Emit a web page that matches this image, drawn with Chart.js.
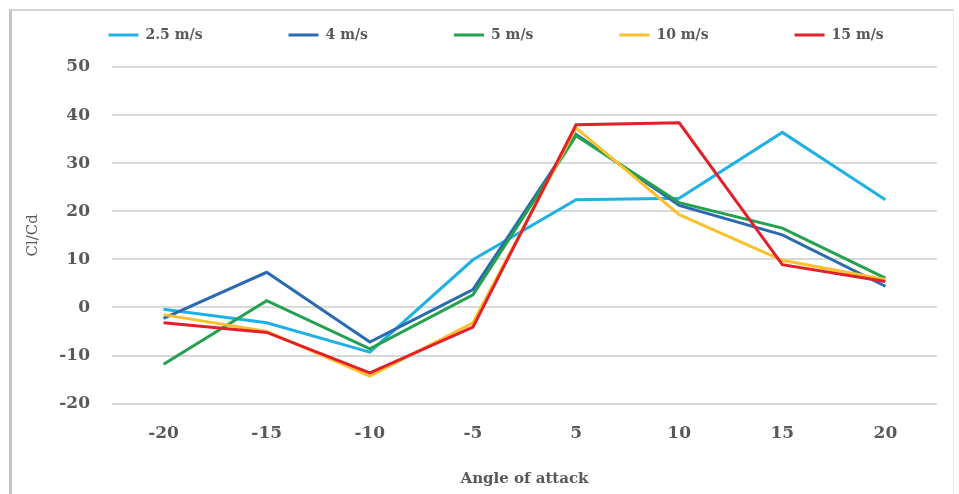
<!DOCTYPE html>
<html lang="en">
<head>
    <meta charset="UTF-8">
    <title>Cl/Cd vs Angle of attack</title>
    <script src="https://cdn.jsdelivr.net/npm/chart.js@4.4.1/dist/chart.umd.min.js"></script>
    <style>
        html, body {
            margin: 0;
            padding: 0;
            background: white;
            overflow: hidden;
        }

        .moldura {
            position: absolute;
            left: 9px;
            top: 9px;
            width: 941px;
            height: 600px;
            border-left: 3px solid #c4c4c4;
            border-top: 2px solid #d4d4d4;
            border-right: 1px solid #ececec;
        }

        .grafico {
            position: absolute;
            left: 0;
            top: 0;
            width: 959px;
            height: 494px;
        }
    </style>
</head>
<body>
<div class="moldura"></div>
<div class="grafico">
    <canvas id="graficoCl"></canvas>
</div>

<script>
    const angulos = ['-20', '-15', '-10', '-5', '5', '10', '15', '20'];

    const v2_5 = [-0.4, -3.2, -9.3, 9.9, 22.4, 22.7, 36.4, 22.4];
    const v4 = [-2.3, 7.3, -7.2, 3.7, 36.0, 21.2, 15.1, 4.4];
    const v5 = [-11.8, 1.4, -8.6, 2.6, 35.7, 21.8, 16.5, 6.1];
    const v10 = [-1.5, -5.0, -14.3, -3.2, 37.3, 19.3, 9.8, 5.8];
    const v15 = [-3.2, -5.2, -13.6, -4.1, 38.0, 38.4, 8.9, 5.4];

    const nomes = ['2.5 m/s', '4 m/s', '5 m/s', '10 m/s', '15 m/s'];
    const cores = ['#1fb0e6', '#2a6ab3', '#23a14f', '#fcc12a', '#e3202a'];
    const series = [v2_5, v4, v5, v10, v15];

    const cinza = '#595959';
    const fonte = 'DejaVu Serif, serif';

    // a legenda do original tem itens bem espaçados; o padding grande empurraria
    // o gráfico para baixo e quebraria a linha, então ela ocupa quase nada no
    // layout e é reposicionada aqui numa linha só
    const ajusteLegenda = {
        id: 'ajusteLegenda',
        afterLayout(chart) {
            const lg = chart.legend;
            const pad = lg.options.labels.padding;
            const total = lg.legendHitBoxes.reduce((s, hb) => s + hb.width + pad, 0);
            const inicio = 108;
            lg.lineWidths = [total];
            lg.top = 28 - pad;
            lg.height = pad + 30;
            lg.bottom = lg.top + lg.height;
            lg.left = inicio - pad;
            lg.right = inicio + total + 1;
            lg.width = lg.right - lg.left;
        }
    };

    const ctx = document.getElementById('graficoCl').getContext('2d');
    new Chart(ctx, {
        type: 'line',
        data: {
            labels: angulos,
            datasets: series.map((d, i) => ({
                label: nomes[i],
                data: d,
                borderColor: cores[i],
                backgroundColor: cores[i],
                borderWidth: 3,
                pointRadius: 0,
                tension: 0,
                fill: false
            })).reverse()
        },
        options: {
            responsive: true,
            maintainAspectRatio: false,
            animation: false,
            layout: {padding: {left: 20, right: 22, top: 66, bottom: 0}},
            plugins: {
                legend: {
                    position: 'top',
                    maxHeight: 1,
                    reverse: true,
                    labels: {
                        boxWidth: 30,
                        boxHeight: 3,
                        padding: 86,
                        color: cinza,
                        font: {family: fonte, size: 14, weight: 'bold'},
                        generateLabels(chart) {
                            return chart.data.datasets.map((ds, i) => ({
                                text: ds.label,
                                fillStyle: ds.borderColor,
                                strokeStyle: ds.borderColor,
                                lineWidth: 0,
                                fontColor: cinza,
                                datasetIndex: i
                            }));
                        }
                    }
                },
                tooltip: {enabled: false}
            },
            scales: {
                x: {
                    offset: true,
                    grid: {display: false},
                    border: {display: false},
                    ticks: {
                        color: cinza,
                        padding: 12,
                        font: {family: fonte, size: 17, weight: 'bold'}
                    },
                    title: {
                        display: true,
                        text: 'Angle of attack',
                        color: cinza,
                        padding: {top: 14, bottom: 6},
                        font: {family: fonte, size: 15, weight: 'bold'}
                    }
                },
                y: {
                    min: -20,
                    max: 50,
                    grid: {color: '#d9d9d9', lineWidth: 2, drawTicks: false},
                    border: {display: false},
                    ticks: {
                        stepSize: 10,
                        color: cinza,
                        padding: 22,
                        font: {family: fonte, size: 17, weight: 'bold'}
                    },
                    title: {
                        display: true,
                        text: 'Cl/Cd',
                        color: cinza,
                        padding: {top: 4, bottom: 10},
                        font: {family: fonte, size: 15}
                    },
                    afterFit(scale) {
                        scale.width = 92;
                    }
                }
            }
        },
        plugins: [ajusteLegenda]
    });
</script>
</body>
</html>
